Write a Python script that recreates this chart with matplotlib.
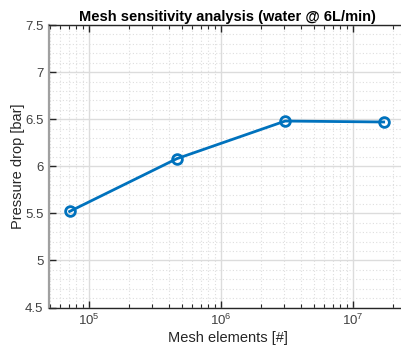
import matplotlib
matplotlib.use('Agg')
import matplotlib.pyplot as plt
import numpy as np
from matplotlib.ticker import LogLocator, MultipleLocator, NullFormatter

# mesh study results
mesh_elements = [7.1e4, 4.6e5, 3.05e6, 1.7e7]
pressure_drop = [5.52, 6.08, 6.48, 6.47]

y_ticks = [4.5, 5, 5.5, 6, 6.5, 7, 7.5]
y_tick_labels = ["4.5", "5", "5.5", "6", "6.5", "7", "7.5"]

plt.rcParams['font.family'] = ['Liberation Sans', 'DejaVu Sans']

W, H = 402, 345
fig = plt.figure(figsize=(W / 100, H / 100), dpi=100)
# axes runs a little past the right edge of the picture, as in the original
left, right, top, bottom = 49, 406, 25, 307.5
ax = fig.add_axes([left / W, 1 - bottom / H, (right - left) / W, (bottom - top) / H])

ax.plot(mesh_elements, pressure_drop, color='#0072BD', lw=2, marker='o',
        ms=7, mfc='none', mec='#0072BD', mew=2, zorder=3)

ax.set_xscale('log')
ax.set_xlim(10 ** 4.695, 10 ** (4.695 + (right - left) / 132.0))
ax.set_ylim(4.5, 7.5)
ax.set_yticks(y_ticks)
ax.set_yticklabels(y_tick_labels)
ax.yaxis.set_minor_locator(MultipleLocator(0.1))
ax.xaxis.set_major_locator(LogLocator(base=10))
ax.xaxis.set_minor_locator(LogLocator(base=10, subs=np.arange(2, 10)))
ax.xaxis.set_minor_formatter(NullFormatter())

ax.grid(which='major', color='#dcdcdc', lw=1, ls='-')
ax.grid(which='minor', color='#dedede', lw=0.8, ls=(0, (1, 2)))
ax.set_axisbelow(True)

ax.tick_params(axis='x', which='both', direction='in', top=True, bottom=True,
               colors='#262626', labelsize=9.5, pad=4)
ax.tick_params(axis='x', which='major', length=5, width=1)
ax.tick_params(axis='x', which='minor', length=3, width=0.8)
ax.tick_params(axis='y', which='major', direction='in', length=5, width=1,
               colors='#262626', labelsize=9.5, left=True, right=False, pad=4)
ax.tick_params(axis='y', which='minor', left=False, right=False)
for lbl in ax.get_xticklabels() + ax.get_yticklabels():
    lbl.set_color('#404040')

for s in ['top', 'bottom']:
    ax.spines[s].set_color('#262626')
    ax.spines[s].set_linewidth(1)
ax.spines['left'].set_color('#a0a0a0')
ax.spines['left'].set_linewidth(1.6)
ax.spines['right'].set_visible(False)

ax.set_xlabel('Mesh elements [#]', fontsize=10.5, color='#262626', labelpad=2)
ax.set_ylabel('Pressure drop [bar]', fontsize=10.5, color='#262626', labelpad=0)
ax.set_title('Mesh sensitivity analysis (water @ 6L/min)', fontsize=10.5,
             fontweight='bold', color='black', pad=3)

fig.savefig('out.png', dpi=100, facecolor='white')
